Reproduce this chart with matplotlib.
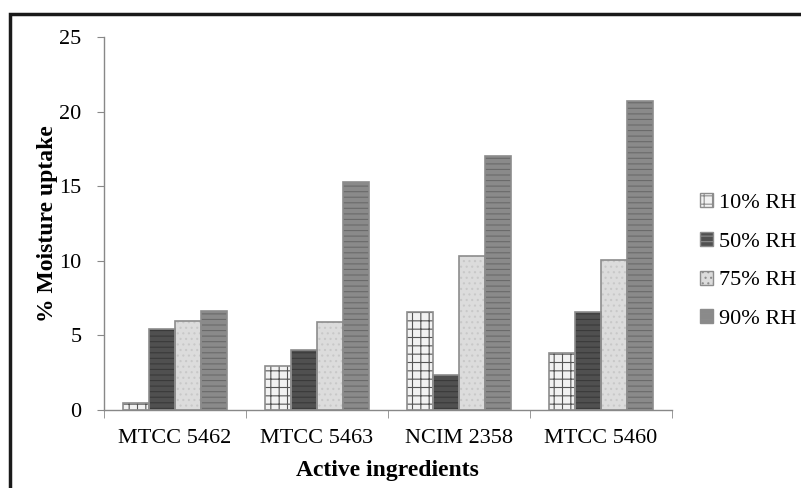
import numpy as np
import matplotlib.pyplot as plt
from matplotlib.patches import Rectangle, Patch

plt.rcParams['font.family'] = ['Liberation Serif', 'DejaVu Serif']
plt.rcParams['hatch.linewidth'] = 0.8

categories = ['MTCC 5462', 'MTCC 5463', 'NCIM 2358', 'MTCC 5460']
series_names = ['10% RH', '50% RH', '75% RH', '90% RH']
rh10 = [0.5, 2.95, 6.6, 3.85]
rh50 = [5.4, 4.0, 2.35, 6.55]
rh75 = [6.0, 5.9, 10.3, 10.05]
rh90 = [6.65, 15.3, 17.0, 20.7]

# face, hatch colour, hatch pattern
styles = [
    ('#f2f2f2', '#555555', '++'),
    ('#505050', '#3a3a3a', '---'),
    ('#dcdcdc', '#c8c8c8', '...'),
    ('#8a8a8a', '#6a6a6a', '---'),
]

fig = plt.figure(figsize=(8.01, 4.88), dpi=100)
ax = fig.add_axes([0.1298, 0.1598, 0.709, 0.7643])

x = np.arange(len(categories))
w = 0.183
data = [rh10, rh50, rh75, rh90]
for k, (vals, (fc, hc, hp)) in enumerate(zip(data, styles)):
    pos = x + (k - 1.5) * w
    ax.bar(pos, vals, w, color=fc, edgecolor=hc, hatch=hp, linewidth=0, zorder=2)
    ax.bar(pos, vals, w, fill=False, edgecolor='#8c8c8c', linewidth=1.2, zorder=3)

ax.set_xlim(-0.5, len(categories) - 0.5)
ax.set_ylim(0, 25)
ax.set_yticks([0, 5, 10, 15, 20, 25])
ax.set_xticks(x)
ax.set_xticklabels(categories)
ax.set_xticks(np.arange(len(categories) + 1) - 0.5, minor=True)
ax.tick_params(axis='x', which='major', length=0, labelsize=16, pad=14)
ax.tick_params(axis='x', which='minor', length=6, color='#888888', direction='out')
ax.tick_params(axis='y', length=5, color='#888888', labelsize=16, pad=11)

for s in ['top', 'right']:
    ax.spines[s].set_visible(False)
for s in ['left', 'bottom']:
    ax.spines[s].set_color('#888888')
    ax.spines[s].set_linewidth(1)

ax.set_xlabel('Active ingredients', fontsize=17, fontweight='bold', labelpad=8)
ax.set_ylabel('% Moisture uptake', fontsize=17, fontweight='bold', labelpad=1)

handles = [Patch(facecolor=fc, edgecolor='#8c8c8c', hatch=hp) for fc, hc, hp in styles]
fig.legend(handles, series_names, loc='center left', bbox_to_anchor=(0.874, 0.465),
           frameon=False, fontsize=16, handlelength=0.6, handleheight=0.6,
           handletextpad=0.25, labelspacing=0.85, borderpad=0, borderaxespad=0)

fig.patches.append(Rectangle((0.0125, -0.1), 1.2, 1.071, transform=fig.transFigure,
                             fill=False, edgecolor='#1a1a1a', linewidth=2.5))

fig.savefig('out.png', dpi=100)
